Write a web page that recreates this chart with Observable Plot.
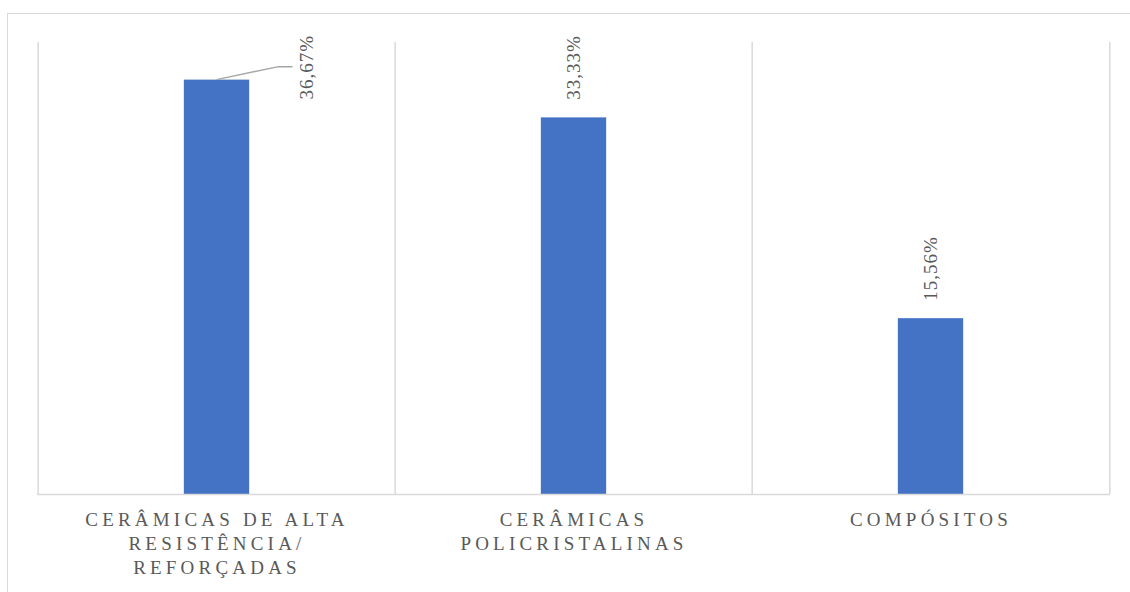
<!DOCTYPE html>
<html><head><meta charset="utf-8">
<script src="https://cdn.jsdelivr.net/npm/d3@7"></script>
<script src="https://cdn.jsdelivr.net/npm/@observablehq/plot@0.6"></script>
<style>
html,body{margin:0;padding:0;background:#fff;overflow:hidden;}
#wrap{position:relative;width:1130px;height:592px;}
#border{position:absolute;left:7px;top:13px;width:1200px;height:700px;border:1.5px solid #d9d9d9;box-sizing:border-box;}
#chart{position:absolute;left:0;top:0;}
#chart g[aria-label="x-axis tick label"] text{letter-spacing:4.2px;}
#chart g[aria-label="text"] text{letter-spacing:1px;}
</style></head>
<body><div id="wrap"><div id="border"></div><div id="chart"></div></div>
<script>
const categories = ["CERÂMICAS DE ALTA\nRESISTÊNCIA/\nREFORÇADAS", "CERÂMICAS\nPOLICRISTALINAS", "COMPÓSITOS"];
const values = [36.67, 33.33, 15.56];
const labels = ["36,67%", "33,33%", "15,56%"];

const data = categories.map((c, i) => ({cat: c, v: values[i], label: labels[i]}));
const W = 1130, H = 592, mL = 37, mR = 20, mT = 42, mB = 98;
const step = (W - mL - mR) / categories.length;
const barW = 66;
const inset = (step - barW) / 2;
const grey = "#d9d9d9";
const textGrey = "#595959";

const leader = (index, scales) => {
  const d = data[0];
  const x0 = scales.x(d.cat) + scales.x.bandwidth() / 2;
  const y0 = scales.y(d.v);
  const p = d3.create("svg:path")
    .attr("d", `M${x0},${y0}L${x0 + 62},${y0 - 13}L${x0 + 76},${y0 - 13}`)
    .attr("fill", "none").attr("stroke", "#a6a6a6").attr("stroke-width", 1.5);
  return p.node();
};

const chart = Plot.plot({
  width: W, height: H,
  marginLeft: mL, marginRight: mR, marginTop: mT, marginBottom: mB,
  style: {fontFamily: "'Liberation Serif', serif", background: "transparent"},
  x: {domain: categories, padding: 0, label: null},
  y: {domain: [0, 40], axis: null},
  marks: [
    Plot.ruleX(categories, {x: d => d, y1: 0, y2: 40, dx: -step / 2, stroke: grey, strokeWidth: 1.5}),
    Plot.ruleX(categories.slice(-1), {x: d => d, y1: 0, y2: 40, dx: step / 2, stroke: grey, strokeWidth: 1.5}),
    Plot.barY(data, {x: "cat", y: "v", fill: "#4472C4", insetLeft: inset, insetRight: inset}),
    Plot.ruleY([0], {stroke: grey, strokeWidth: 1.5}),
    Plot.axisX({tickSize: 0, tickPadding: 14, fontSize: 19, fill: textGrey, lineHeight: 1.27, label: null}),
    leader,
    Plot.text(data.slice(0, 1), {x: "cat", y: "v", text: "label", rotate: -90, textAnchor: "middle", dx: 90, dy: -13,
      fill: textGrey, fontSize: 19, fontFamily: "'Liberation Serif', serif"}),
    Plot.text(data.slice(1), {x: "cat", y: "v", text: "label", rotate: -90, textAnchor: "start", dy: -18,
      fill: textGrey, fontSize: 19, fontFamily: "'Liberation Serif', serif"})
  ]
});
document.getElementById("chart").appendChild(chart);
</script></body></html>
